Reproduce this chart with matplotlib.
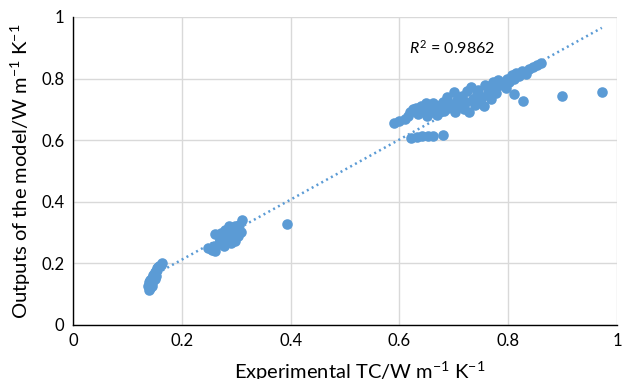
import numpy as np
import matplotlib
matplotlib.use("Agg")
import matplotlib.pyplot as plt

plt.rcParams['font.family'] = ['Lato', 'DejaVu Sans']
plt.rcParams['mathtext.fontset'] = 'custom'
plt.rcParams['mathtext.rm'] = 'Lato'
plt.rcParams['mathtext.it'] = 'Lato:italic'

# experimental vs predicted thermal conductivity (W m-1 K-1)
low_x = [0.140, 0.142, 0.138, 0.141, 0.143, 0.139, 0.144, 0.146, 0.142, 0.147,
         0.145, 0.149, 0.148, 0.151, 0.150, 0.153, 0.155, 0.154, 0.157, 0.159,
         0.161, 0.163, 0.150, 0.146, 0.152]
low_y = [0.115, 0.120, 0.128, 0.132, 0.125, 0.138, 0.140, 0.135, 0.145, 0.148,
         0.152, 0.158, 0.163, 0.167, 0.172, 0.176, 0.180, 0.185, 0.188, 0.192,
         0.196, 0.201, 0.150, 0.128, 0.160]

mid_x = [0.248, 0.255, 0.262, 0.260, 0.268, 0.262, 0.270, 0.275, 0.278, 0.282,
         0.285, 0.288, 0.290, 0.292, 0.295, 0.298, 0.300, 0.303, 0.305, 0.308,
         0.310, 0.298, 0.272, 0.280, 0.286, 0.393]
mid_y = [0.250, 0.245, 0.240, 0.258, 0.262, 0.295, 0.280, 0.270, 0.255, 0.290,
         0.275, 0.305, 0.265, 0.315, 0.285, 0.320, 0.300, 0.290, 0.325, 0.302,
         0.340, 0.272, 0.300, 0.310, 0.323, 0.328]

high_x = [0.590, 0.600, 0.610, 0.615, 0.620, 0.625, 0.630, 0.635, 0.640, 0.645,
          0.648, 0.650, 0.655, 0.660, 0.662, 0.668, 0.670, 0.675, 0.680, 0.682,
          0.688, 0.690, 0.695, 0.700, 0.702, 0.705, 0.710, 0.715, 0.718, 0.722,
          0.725, 0.728, 0.732, 0.735, 0.738, 0.742, 0.745, 0.748, 0.752, 0.755,
          0.758, 0.762, 0.765, 0.768, 0.772, 0.775, 0.778, 0.782, 0.785, 0.790,
          0.795, 0.798, 0.802, 0.806, 0.810, 0.815, 0.820, 0.826, 0.832, 0.838,
          0.845, 0.852, 0.860,
          0.622, 0.632, 0.642, 0.652, 0.662, 0.680,
          0.811, 0.828, 0.899, 0.972]
high_y = [0.656, 0.662, 0.668, 0.680, 0.690, 0.700, 0.706, 0.684, 0.712, 0.695,
          0.720, 0.680, 0.705, 0.690, 0.722, 0.700, 0.683, 0.715, 0.725, 0.695,
          0.740, 0.705, 0.718, 0.757, 0.690, 0.730, 0.712, 0.742, 0.700, 0.725,
          0.760, 0.692, 0.772, 0.735, 0.715, 0.750, 0.762, 0.728, 0.740, 0.712,
          0.778, 0.752, 0.765, 0.735, 0.788, 0.770, 0.752, 0.795, 0.778, 0.785,
          0.770, 0.798, 0.790, 0.812, 0.800, 0.818, 0.808, 0.825, 0.815, 0.830,
          0.838, 0.845, 0.852,
          0.607, 0.610, 0.612, 0.613, 0.615, 0.618,
          0.750, 0.728, 0.742, 0.757]

ticks = [0, 0.2, 0.4, 0.6, 0.8, 1]
tick_labels = ['0', '0.2', '0.4', '0.6', '0.8', '1']
r2_label = '0.9862'

x = np.array(low_x + mid_x + high_x)
y = np.array(low_y + mid_y + high_y)
blue = '#5B9BD5'

fig = plt.figure(figsize=(6.23, 3.79), dpi=100)
ax = fig.add_axes([0.117, 0.1425, 0.8735, 0.8127])

ax.scatter(x, y, s=58, color=blue, linewidths=0, zorder=3)

# linear trendline over the data range
k, b = np.polyfit(x, y, 1)
tx = np.array([x.min(), x.max()])
ax.plot(tx, k * tx + b, color=blue, lw=1.8, linestyle=(0, (0.8, 1.4)), zorder=2)

ax.text(0.618, 0.90, '$R^2$ = ' + r2_label, fontsize=11.5, va='center', ha='left')

ax.set_xlim(0, 1)
ax.set_ylim(0, 1)
ax.set_xticks(ticks)
ax.set_xticklabels(tick_labels)
ax.set_yticks(ticks)
ax.set_yticklabels(tick_labels)
ax.tick_params(length=0, labelsize=12, pad=6)
ax.grid(True, color='#D9D9D9', lw=1)
ax.set_axisbelow(True)
for side in ['top', 'right']:
    ax.spines[side].set_visible(False)
for side in ['left', 'bottom']:
    ax.spines[side].set_color('black')
    ax.spines[side].set_linewidth(1)

ax.set_xlabel('Experimental TC/W m$^{-1}$ K$^{-1}$', fontsize=14.5)
ax.xaxis.set_label_coords(0.527, -0.112, transform=ax.transAxes)
ax.xaxis.label.set_va('top')
ax.set_ylabel('Outputs of the model/W m$^{-1}$ K$^{-1}$', fontsize=14.5, labelpad=6)

fig.savefig('out.png', dpi=100)
